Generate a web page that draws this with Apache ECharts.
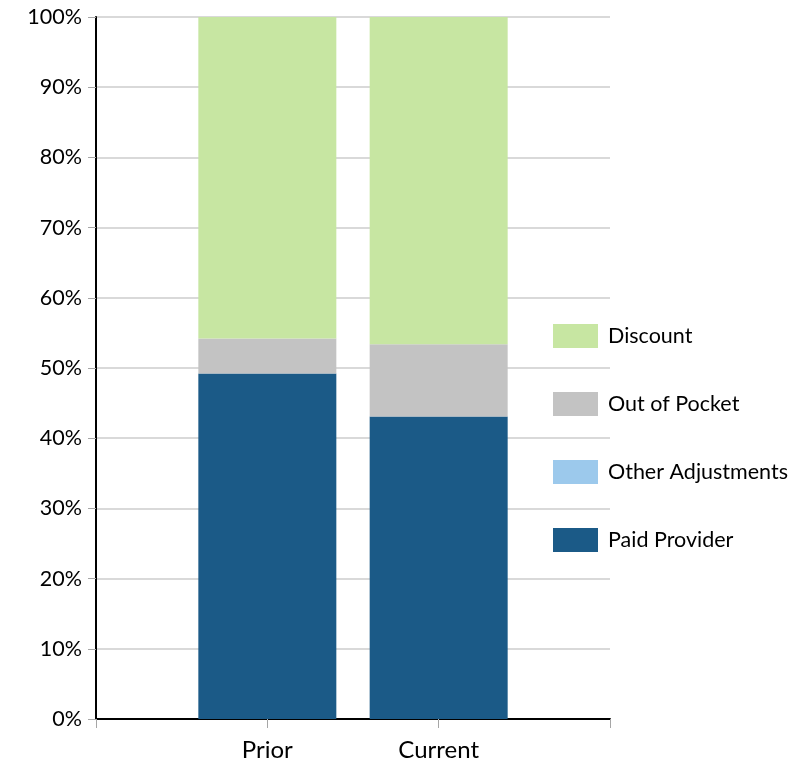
<!DOCTYPE html>
<html>
<head>
<meta charset="utf-8">
<title>Payment Breakdown</title>
<script src="https://cdn.jsdelivr.net/npm/echarts@6/dist/echarts.min.js"></script>
<style>
  html, body { margin: 0; padding: 0; background: #fff; }
  #chart { width: 810px; height: 765px; }
</style>
</head>
<body>
<div id="chart"></div>
<script>
// Periods shown on the x axis
const categories = ['Prior', 'Current'];

// Share of total (%) per component, stacked bottom to top
const paidProvider     = [49.2, 43.1];
const otherAdjustments = [0, 0];
const outOfPocket      = [5.0, 10.3];
const discount         = [45.8, 46.6];

// Y axis tick values (%)
const yTicks = [0, 10, 20, 30, 40, 50, 60, 70, 80, 90, 100];

const FONT = 'Lato, "Open Sans", sans-serif';

// Category axis with an empty slot on each side so the ticks sit at the band edges
const axisCats = [''].concat(categories, ['']);
const pad = arr => [null].concat(arr, [null]);

const seriesDefs = [
  { name: 'Paid Provider',     data: paidProvider,     color: '#1b5a87' },
  { name: 'Other Adjustments', data: otherAdjustments, color: '#9cc9ec' },
  { name: 'Out of Pocket',     data: outOfPocket,      color: '#c3c3c3' },
  { name: 'Discount',          data: discount,         color: '#c7e6a2' }
];

const chart = echarts.init(document.getElementById('chart'), null, { renderer: 'canvas' });

chart.setOption({
  animation: false,
  grid: { left: 96, right: 200, top: 17, bottom: 46, containLabel: false },
  legend: {
    orient: 'vertical',
    left: 553,
    top: 324,
    padding: 0,
    itemWidth: 45,
    itemHeight: 24,
    itemGap: 44,
    icon: 'rect',
    data: ['Discount', 'Out of Pocket', 'Other Adjustments', 'Paid Provider'],
    textStyle: { fontFamily: FONT, fontSize: 21.5, lineHeight: 24, color: '#000', padding: [0, 0, 0, 5] },
    selectedMode: false
  },
  xAxis: {
    type: 'category',
    data: axisCats,
    boundaryGap: false,
    axisLine: { lineStyle: { color: '#000', width: 2 } },
    axisTick: { show: true, length: 9, lineStyle: { color: '#a6a6a6', width: 1 } },
    axisLabel: { fontFamily: FONT, fontSize: 24, color: '#000', margin: 19 },
    splitLine: { show: false }
  },
  yAxis: {
    type: 'value',
    min: yTicks[0],
    max: yTicks[yTicks.length - 1],
    interval: yTicks[1] - yTicks[0],
    axisLine: { show: true, lineStyle: { color: '#000', width: 2 } },
    axisTick: { show: true, length: 8, lineStyle: { color: '#a6a6a6', width: 1 } },
    axisLabel: { fontFamily: FONT, fontSize: 21.5, color: '#000', margin: 14, formatter: v => v + '%' },
    splitLine: { show: true, lineStyle: { color: '#d9d9d9', width: 2 } }
  },
  series: seriesDefs.map(s => ({
    name: s.name,
    type: 'bar',
    stack: 'total',
    barWidth: 138,
    data: pad(s.data),
    itemStyle: { color: s.color },
    emphasis: { disabled: true }
  }))
});
</script>
</body>
</html>
